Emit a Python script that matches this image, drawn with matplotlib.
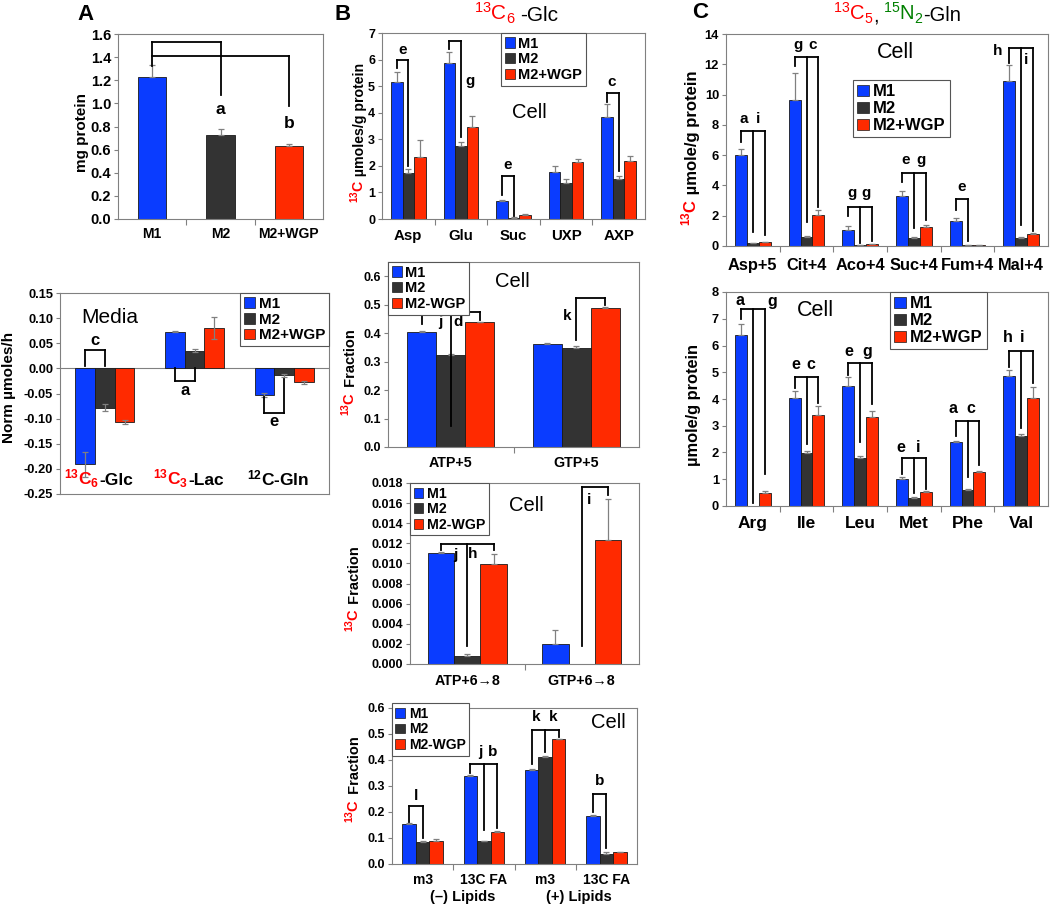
import matplotlib.pyplot as plt
from matplotlib.patches import Patch
from matplotlib.ticker import FormatStrFormatter, MultipleLocator
from matplotlib.transforms import blended_transform_factory, offset_copy

plt.rcParams['font.family'] = ['Liberation Sans', 'DejaVu Sans']
plt.rcParams['font.weight'] = 'bold'
plt.rcParams['axes.unicode_minus'] = False
plt.rcParams['mathtext.fontset'] = 'custom'
plt.rcParams['mathtext.rm'] = 'Liberation Sans:normal'
plt.rcParams['mathtext.bf'] = 'Liberation Sans:bold'
plt.rcParams['mathtext.it'] = 'Liberation Sans:italic:normal'

# ---------------- data ----------------
series = ['M1', 'M2', 'M2+WGP']
series_minus = ['M1', 'M2', 'M2-WGP']

# A: cell protein
a1_cats = ['M1', 'M2', 'M2+WGP']
a1_vals = [1.23, 0.73, 0.635]
a1_errs = [0.10, 0.05, 0.01]

# A: media
a2_cats = [(r'$\mathbf{^{13}C_{6}}$', '-Glc'), (r'$\mathbf{^{13}C_{3}}$', '-Lac'), ('', r'$\mathbf{^{12}C}$-Gln')]
a2_vals = [[-0.191, 0.073, -0.053],
           [-0.078, 0.035, -0.014],
           [-0.106, 0.080, -0.028]]
a2_errs = [[0.025, 0.001, 0.004],
           [0.007, 0.003, 0.003],
           [0.004, 0.022, 0.003]]

# B: 13C6-Glc
b1_cats = ['Asp', 'Glu', 'Suc', 'UXP', 'AXP']
b1_vals = [[5.15, 5.87, 0.67, 1.78, 3.85],
           [1.72, 2.75, 0.05, 1.37, 1.50],
           [2.35, 3.45, 0.15, 2.13, 2.17]]
b1_errs = [[0.38, 0.42, 0.06, 0.22, 0.47],
           [0.16, 0.15, 0.01, 0.13, 0.10],
           [0.62, 0.42, 0.04, 0.13, 0.20]]

b2_cats = ['ATP+5', 'GTP+5']
b2_vals = [[0.405, 0.363], [0.322, 0.348], [0.438, 0.488]]
b2_errs = [[0.001, 0.001], [0.003, 0.008], [0.002, 0.004]]

b3_cats = ['ATP+6→8', 'GTP+6→8']
b3_vals = [[0.0110, 0.0020], [0.0008, 0.0], [0.0099, 0.0123]]
b3_errs = [[0.0001, 0.0014], [0.0002, 0.0], [0.0010, 0.0041]]

b4_cats = ['m3', '13C FA', 'm3', '13C FA']
b4_groups = ['(–) Lipids', '(+) Lipids']
b4_vals = [[0.152, 0.340, 0.362, 0.185],
           [0.085, 0.088, 0.412, 0.040],
           [0.090, 0.125, 0.480, 0.045]]
b4_errs = [[0.004, 0.004, 0.002, 0.002],
           [0.004, 0.002, 0.004, 0.005],
           [0.008, 0.002, 0.002, 0.002]]

# C: 13C5,15N2-Gln
c1_cats = ['Asp+5', 'Cit+4', 'Aco+4', 'Suc+4', 'Fum+4', 'Mal+4']
c1_vals = [[6.0, 9.65, 1.07, 3.3, 1.65, 10.9],
           [0.18, 0.62, 0.05, 0.55, 0.08, 0.55],
           [0.25, 2.05, 0.10, 1.28, 0.08, 0.80]]
c1_errs = [[0.42, 1.8, 0.22, 0.35, 0.2, 1.05],
           [0.02, 0.05, 0.01, 0.03, 0.01, 0.05],
           [0.03, 0.3, 0.02, 0.13, 0.01, 0.07]]

c2_cats = ['Arg', 'Ile', 'Leu', 'Met', 'Phe', 'Val']
c2_vals = [[6.4, 4.03, 4.47, 1.0, 2.4, 4.85],
           [0.0, 1.97, 1.78, 0.3, 0.6, 2.6],
           [0.5, 3.4, 3.32, 0.53, 1.28, 4.03]]
c2_errs = [[0.4, 0.28, 0.37, 0.08, 0.03, 0.22],
           [0.0, 0.08, 0.1, 0.02, 0.02, 0.08],
           [0.07, 0.32, 0.25, 0.03, 0.03, 0.4]]

# significance brackets: (top, [(category, bar, leg end), ...]) and letters (x, y, text)
a1_brackets = [(1.53, [(0, 1, 1.32), (1, 1, 1.075)]), (1.41, [(0, 1, 1.41), (2, 1, 0.98)])]
a1_letters = [(1, 0.945, 'a'), (2, 0.83, 'b')]
a2_brackets = [(0.037, [(0, 0, 0.005), (0, 1, 0.005)]),
               (-0.025, [(1, 0, 0.0), (1, 1, 0.0)]),
               (-0.088, [(2, 0, -0.056), (2, 1, -0.022)])]
a2_letters = [(-0.11, 0.055, 'c'), (0.89, -0.045, 'a'), (1.89, -0.105, 'e')]
b1_brackets = [(6.0, [(0, 0, 5.7), (0, 1, 2.0)]), (6.7, [(1, 0, 6.4), (1, 1, 3.1)]),
               (1.63, [(2, 0, 0.9), (2, 1, 0.1)]), (4.74, [(4, 0, 4.4), (4, 1, 1.8)])]
b1_letters = [(-0.11, 6.35, 'e'), (1.17, 5.2, 'g'), (1.89, 2.05, 'e'), (3.87, 5.15, 'c')]
b2_brackets = [(0.474, [(0, 0, 0.433), (0, 1, 0.074), (0, 2, 0.447)]),
               (0.525, [(1, 1, 0.375), (1, 2, 0.498)])]
b2_letters = [(-0.085, 0.44, 'j'), (0.056, 0.44, 'd'), (0.925, 0.462, 'k')]
b3_brackets = [(0.0119, [(0, 0, 0.0113), (0, 1, 0.0018), (0, 2, 0.0113)]),
               (0.0176, [(1, 1, 0.0018), (1, 2, 0.0168)])]
b3_letters = [(-0.1, 0.0108, 'j'), (0.05, 0.0109, 'h'), (1.06, 0.0163, 'i')]
b4_brackets = [(0.224, [(0, 0, 0.16), (0, 1, 0.10)]),
               (0.383, [(1, 0, 0.35), (1, 1, 0.13), (1, 2, 0.14)]),
               (0.517, [(2, 0, 0.386), (2, 1, 0.43), (2, 2, 0.49)]),
               (0.27, [(3, 0, 0.2), (3, 1, 0.06)])]
b4_letters = [(-0.11, 0.26, 'l'), (0.94, 0.43, 'j'), (1.14, 0.43, 'b'),
              (1.86, 0.565, 'k'), (2.13, 0.565, 'k'), (2.89, 0.32, 'b')]
c1_brackets = [(7.6, [(0, 0, 6.9), (0, 1, 0.9), (0, 2, 0.7)]),
               (12.5, [(1, 0, 11.9), (1, 1, 1.6), (1, 2, 2.6)]),
               (2.6, [(2, 0, 2.0), (2, 1, 0.2), (2, 2, 0.3)]),
               (4.8, [(3, 0, 4.2), (3, 1, 1.2), (3, 2, 1.7)]),
               (3.1, [(4, 0, 2.4), (4, 1, 0.3)]),
               (13.05, [(5, 0, 12.1), (5, 1, 1.4), (5, 2, 1.0)])]
c1_letters = [(-0.16, 8.4, 'a'), (0.09, 8.4, 'i'), (0.85, 13.3, 'g'), (1.12, 13.3, 'c'),
              (1.84, 3.5, 'g'), (2.11, 3.5, 'g'), (2.85, 5.7, 'e'), (3.13, 5.7, 'g'),
              (3.89, 3.9, 'e'), (4.57, 12.9, 'h'), (5.1, 12.3, 'i')]
c2_brackets = [(7.37, [(0, 0, 7.0), (0, 1, 0.1), (0, 2, 1.2)]),
               (4.84, [(1, 0, 4.4), (1, 1, 2.3), (1, 2, 3.85)]),
               (5.36, [(2, 0, 4.9), (2, 1, 2.4), (2, 2, 3.8)]),
               (1.8, [(3, 0, 1.2), (3, 1, 0.5), (3, 2, 0.65)]),
               (3.19, [(4, 0, 2.6), (4, 1, 1.1), (4, 2, 1.55)]),
               (5.8, [(5, 0, 5.2), (5, 1, 2.9), (5, 2, 4.6)])]
c2_letters = [(-0.24, 7.7, 'a'), (0.37, 7.65, 'g'), (0.8, 5.3, 'e'), (1.08, 5.3, 'c'),
              (1.79, 5.78, 'e'), (2.13, 5.78, 'g'), (2.75, 2.2, 'e'), (3.08, 2.2, 'i'),
              (3.73, 3.65, 'a'), (4.06, 3.65, 'c'), (4.75, 6.3, 'h'), (5.02, 6.3, 'i')]

# ---------------- style ----------------
COLORS = ['#0A3CFF', '#333333', '#FF2A00']
FRAME = '#808080'
ERR = '#808080'
W, H = 1050, 906

fig = plt.figure(figsize=(10.5, 9.06), dpi=100)
renderer = fig.canvas.get_renderer()


def add_axes(x0, y0, x1, y1):
    return fig.add_axes([x0 / W, 1 - y1 / H, (x1 - x0) / W, (y1 - y0) / H])


def setup(ax, ylim, step, fmt, size):
    ax.set_ylim(*ylim)
    ax.yaxis.set_major_locator(MultipleLocator(step))
    ax.yaxis.set_major_formatter(FormatStrFormatter(fmt))
    for s in ax.spines.values():
        s.set_color(FRAME)
        s.set_linewidth(0.8)
    ax.tick_params(axis='y', length=3, width=0.8, color=FRAME, labelsize=size, pad=2)


def set_cats(ax, cats, size, pad):
    n = len(cats)
    ax.set_xlim(-0.5, n - 0.5)
    ax.set_xticks(range(n))
    ax.set_xticklabels(cats, fontsize=size)
    ax.set_xticks([i - 0.5 for i in range(1, n)], minor=True)
    ax.tick_params(axis='x', which='major', length=0, pad=pad)
    ax.tick_params(axis='x', which='minor', length=4, width=0.8, color=FRAME)


def bars(ax, vals, errs, width, both=False):
    k = len(vals)
    for j in range(k):
        xs, ys, lo, hi = [], [], [], []
        for i, (v, e) in enumerate(zip(vals[j], errs[j])):
            if v == 0:
                continue
            xs.append(i + (j - (k - 1) / 2) * width)
            ys.append(v)
            if both:
                lo.append(e)
                hi.append(e)
            else:
                lo.append(e if v < 0 else 0)
                hi.append(e if v >= 0 else 0)
        ax.bar(xs, ys, width, color=COLORS[j], edgecolor='#1a1a1a', linewidth=0.6, zorder=2)
        ax.errorbar(xs, ys, yerr=[lo, hi], fmt='none', ecolor=ERR, elinewidth=0.9,
                    capsize=2, capthick=0.9, zorder=3)


def brackets(ax, specs, letters, width, size):
    for top, legs in specs:
        xs = [c + (b - 1) * width for c, b, _ in legs]
        ax.plot([min(xs), max(xs)], [top, top], color='black', lw=1.3, zorder=4,
                solid_capstyle='projecting')
        for x, (_, _, end) in zip(xs, legs):
            ax.plot([x, x], [top, end], color='black', lw=1.3, zorder=4)
    for x, y, t in letters:
        ax.text(x, y, t, ha='center', va='center', fontsize=size, zorder=5)


def legend(ax, labels, size, loc, anchor):
    handles = [Patch(facecolor=c, edgecolor='#1a1a1a', linewidth=0.5) for c in COLORS]
    lg = ax.legend(handles, labels, loc=loc, bbox_to_anchor=anchor, prop={'size': size, 'weight': 'bold'},
                   frameon=True, fancybox=False, framealpha=1, edgecolor='#555555',
                   borderpad=0.25, labelspacing=0.12, handlelength=0.7, handleheight=0.7,
                   handletextpad=0.25, borderaxespad=0)
    lg.get_frame().set_linewidth(0.8)
    lg.set_zorder(6)


def ylabel(ax, x, y, text, size):
    ax.text(x, y, text, transform=ax.transAxes, rotation=90, ha='center', va='center', fontsize=size)


def ylabel2(ax, x, yj, red, black, size):
    tr = offset_copy(ax.transAxes, fig=fig, x=0.3 * size, units='points')
    kw = dict(transform=tr, rotation=90, rotation_mode='anchor', va='baseline', fontsize=size)
    ax.text(x, yj, red, ha='right', color='red', **kw)
    ax.text(x, yj, black, ha='left', color='black', **kw)


def rich_row(xd, yd, parts, size, weight='normal', align='center'):
    # xd, yd in display pixels; parts = (text, colour, gap before in px)
    texts = [fig.text(0, yd / H, s, color=c, fontsize=size, fontweight=weight,
                      ha='left', va='baseline') for s, c, _ in parts]
    widths = [t.get_window_extent(renderer).width for t in texts]
    gaps = [g for _, _, g in parts]
    total = sum(widths) + sum(gaps)
    x = xd - total / 2 if align == 'center' else xd
    for t, w, g in zip(texts, widths, gaps):
        x += g
        t.set_x(x / W)
        x += w


# ---------------- A ----------------
ax = add_axes(118, 34, 323, 219)
setup(ax, (0, 1.6), 0.2, '%.1f', 10.5)
set_cats(ax, a1_cats, 10, 6)
ax.bar(range(len(a1_vals)), a1_vals, 0.41, color=COLORS, edgecolor='#1a1a1a', linewidth=0.6, zorder=2)
ax.errorbar(range(len(a1_vals)), a1_vals, yerr=[[0] * 3, a1_errs], fmt='none', ecolor=ERR,
            elinewidth=0.9, capsize=2, capthick=0.9, zorder=3)
brackets(ax, a1_brackets, a1_letters, 0, 12.5)
ylabel(ax, -0.176, 0.47, 'mg protein', 11)

ax = add_axes(60, 293, 329, 494)
setup(ax, (-0.25, 0.15), 0.05, '%.2f', 9.3)
ax.set_xlim(-0.5, 2.5)
ax.set_xticks([])
ax.axhline(0, color=FRAME, lw=0.8, zorder=1)
bars(ax, a2_vals, a2_errs, 0.22, both=True)
brackets(ax, a2_brackets, a2_letters, 0.22, 12)
legend(ax, series, 11, 'upper right', (1, 1))
ax.text(0.06, 0.102, 'Media', ha='center', va='center', fontsize=15, fontweight='normal')
ylabel(ax, -0.19, 0.53, 'Norm µmoles/h', 11)
for i, (red, black) in enumerate(a2_cats):
    xd, yd = ax.transData.transform((i - 0.07, -0.232))
    parts = [(red, 'red', 0), (black, 'black', 0)] if red else [(black, 'black', 0)]
    rich_row(xd, yd, parts, 12.5, weight='bold')

# ---------------- B ----------------
ax = add_axes(382, 33, 645, 219)
setup(ax, (0, 7), 1, '%d', 9)
set_cats(ax, b1_cats, 10.8, 7)
bars(ax, b1_vals, b1_errs, 0.22)
brackets(ax, b1_brackets, b1_letters, 0.22, 11)
legend(ax, series, 10.5, 'upper left', (0.452, 1.0))
ax.text(2.3, 4.0, 'Cell', ha='center', va='center', fontsize=14.5, fontweight='normal')
ylabel2(ax, -0.084, 0.21, r'$\mathbf{^{13}C}$', ' µmoles/g protein', 10.2)

ax = add_axes(388, 262, 639, 447)
setup(ax, (0, 0.65), 0.1, '%.1f', 9)
set_cats(ax, b2_cats, 10.3, 6.5)
bars(ax, b2_vals, b2_errs, 0.23)
brackets(ax, b2_brackets, b2_letters, 0.23, 11)
legend(ax, series_minus, 10.5, 'upper left', (0, 1.0))
ax.text(0.49, 0.58, 'Cell', ha='center', va='center', fontsize=14.5, fontweight='normal')
ylabel2(ax, -0.147, 0.30, r'$\mathbf{^{13}C}$', ' Fraction', 10.5)

ax = add_axes(410, 483, 639, 664)
setup(ax, (0, 0.018), 0.002, '%.3f', 9)
set_cats(ax, b3_cats, 10.3, 7.5)
bars(ax, b3_vals, b3_errs, 0.23)
brackets(ax, b3_brackets, b3_letters, 0.23, 11)
legend(ax, series_minus, 10.2, 'upper left', (0, 1.0))
ax.text(0.52, 0.0158, 'Cell', ha='center', va='center', fontsize=14.5, fontweight='normal')
ylabel2(ax, -0.24, 0.31, r'$\mathbf{^{13}C}$', ' Fraction', 10.5)

ax = add_axes(392, 708, 637, 864)
setup(ax, (0, 0.6), 0.1, '%.1f', 9)
set_cats(ax, b4_cats, 10, 6.5)
bars(ax, b4_vals, b4_errs, 0.22)
brackets(ax, b4_brackets, b4_letters, 0.22, 11)
legend(ax, series_minus, 10, 'upper left', (0, 1.03))
ax.text(3.03, 0.546, 'Cell', ha='center', va='center', fontsize=14.5, fontweight='normal')
ylabel2(ax, -0.151, 0.42, r'$\mathbf{^{13}C}$', ' Fraction', 10.5)
tr = blended_transform_factory(ax.transData, ax.transAxes)
for x, g in zip([0.65, 2.55], b4_groups):
    ax.text(x, -0.21, g, transform=tr, ha='center', va='center', fontsize=10.5)

# ---------------- C ----------------
ax = add_axes(726, 34, 1048, 246)
setup(ax, (0, 14), 2, '%d', 9.3)
set_cats(ax, c1_cats, 11.8, 8.5)
bars(ax, c1_vals, c1_errs, 0.22)
brackets(ax, c1_brackets, c1_letters, 0.22, 11)
legend(ax, series, 12, 'upper left', (0.394, 0.783))
ax.text(2.65, 12.75, 'Cell', ha='center', va='center', fontsize=15.5, fontweight='normal')
ylabel2(ax, -0.106, 0.22, r'$\mathbf{^{13}C}$', ' µmole/g protein', 12)

ax = add_axes(726, 292, 1048, 506)
setup(ax, (0, 8), 1, '%d', 9.3)
set_cats(ax, c2_cats, 12.5, 7.5)
bars(ax, c2_vals, c2_errs, 0.22)
brackets(ax, c2_brackets, c2_letters, 0.22, 11.5)
legend(ax, series, 12, 'upper left', (0.509, 1.0))
ax.text(1.16, 7.29, 'Cell', ha='center', va='center', fontsize=15.5, fontweight='normal')
ylabel(ax, -0.102, 0.47, 'µmole/g protein', 11.8)

# ---------------- titles and panel letters ----------------
rich_row(516, H - 21, [(r'$\mathrm{^{13}C_{6}}$', 'red', 0), ('-Glc', 'black', 5)], 15, align='center')
rich_row(833, H - 21, [(r'$\mathrm{^{13}C_{5}}$', 'red', 0), (',', 'black', 0),
                       (r'$\mathrm{^{15}N_{2}}$', 'green', 4), ('-Gln', 'black', 0)], 14.5, align='left')

fig.text(85 / W, 1 - 14 / H, 'A', ha='center', va='center', fontsize=16)
fig.text(343 / W, 1 - 14 / H, 'B', ha='center', va='center', fontsize=16)
fig.text(700 / W, 1 - 13 / H, 'C', ha='center', va='center', fontsize=16)

fig.savefig('out.png', dpi=100)
